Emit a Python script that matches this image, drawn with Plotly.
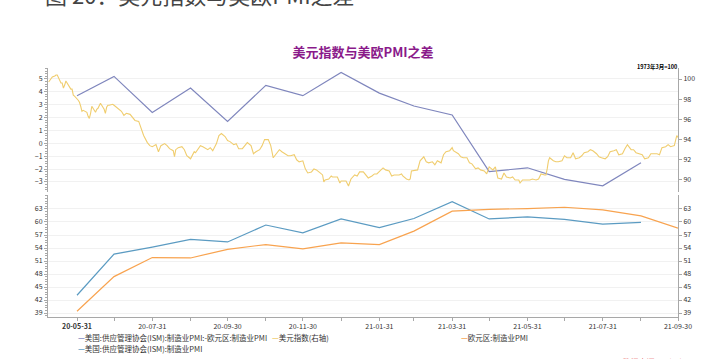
import plotly.graph_objects as go
from plotly.subplots import make_subplots

# ---------------- data ----------------
months = ["2020-05-31", "2020-06-30", "2020-07-31", "2020-08-31", "2020-09-30", "2020-10-31",
          "2020-11-30", "2020-12-31", "2021-01-31", "2021-02-28", "2021-03-31", "2021-04-30",
          "2021-05-31", "2021-06-30", "2021-07-31", "2021-08-31", "2021-09-30"]
tick_labels = ["20-05-31", "", "20-07-31", "", "20-09-30", "", "20-11-30", "", "21-01-31", "",
               "21-03-31", "", "21-05-31", "", "21-07-31", "", "21-09-30"]
pmi_ticks = [39, 42, 45, 48, 51, 54, 57, 60, 63]

pmi_diff = [3.7, 5.2, 2.4, 4.3, 1.7, 4.5, 3.7, 5.5, 3.9, 2.9, 2.2, -2.2, -1.9, -2.8, -3.3, -1.5]
ism_pmi = [43.1, 52.6, 54.2, 56.0, 55.4, 59.3, 57.5, 60.7, 58.7, 60.8, 64.7, 60.7, 61.2, 60.6, 59.5, 59.9]
euro_pmi = [39.4, 47.4, 51.8, 51.7, 53.7, 54.8, 53.8, 55.2, 54.8, 57.9, 62.5, 62.9, 63.1, 63.4, 62.8, 61.4, 58.6]

dxy_dates = [
    "2020-05-08", "2020-05-11", "2020-05-13", "2020-05-14", "2020-05-15", "2020-05-18", "2020-05-19",
    "2020-05-20", "2020-05-21", "2020-05-22", "2020-05-26", "2020-05-27", "2020-05-28", "2020-05-29",
    "2020-06-01", "2020-06-02", "2020-06-03", "2020-06-04", "2020-06-05", "2020-06-08", "2020-06-09",
    "2020-06-10", "2020-06-11", "2020-06-12", "2020-06-15", "2020-06-16", "2020-06-17", "2020-06-18",
    "2020-06-19", "2020-06-22", "2020-06-23", "2020-06-24", "2020-06-25", "2020-06-26", "2020-06-29",
    "2020-06-30", "2020-07-02", "2020-07-06", "2020-07-08", "2020-07-10", "2020-07-13", "2020-07-15",
    "2020-07-17", "2020-07-20", "2020-07-22", "2020-07-24", "2020-07-27", "2020-07-29", "2020-07-31",
    "2020-08-03", "2020-08-05", "2020-08-07", "2020-08-10", "2020-08-12", "2020-08-14", "2020-08-17",
    "2020-08-18", "2020-08-19", "2020-08-21", "2020-08-24", "2020-08-26", "2020-08-28", "2020-08-31",
    "2020-09-01", "2020-09-03", "2020-09-04", "2020-09-08", "2020-09-10", "2020-09-14", "2020-09-16",
    "2020-09-18", "2020-09-21", "2020-09-23", "2020-09-25", "2020-09-28", "2020-09-30", "2020-10-02",
    "2020-10-05", "2020-10-07", "2020-10-09", "2020-10-12", "2020-10-14", "2020-10-16", "2020-10-19",
    "2020-10-21", "2020-10-23", "2020-10-26", "2020-10-28", "2020-10-30", "2020-11-02", "2020-11-04",
    "2020-11-06", "2020-11-09", "2020-11-11", "2020-11-13", "2020-11-16", "2020-11-18", "2020-11-20",
    "2020-11-23", "2020-11-25", "2020-11-27", "2020-11-30", "2020-12-02", "2020-12-04", "2020-12-07",
    "2020-12-09", "2020-12-11", "2020-12-14", "2020-12-16", "2020-12-17", "2020-12-18", "2020-12-21",
    "2020-12-23", "2020-12-24", "2020-12-28", "2020-12-30", "2020-12-31", "2021-01-04", "2021-01-06",
    "2021-01-08", "2021-01-11", "2021-01-13", "2021-01-15", "2021-01-18", "2021-01-20", "2021-01-22",
    "2021-01-25", "2021-01-27", "2021-01-29", "2021-02-01", "2021-02-03", "2021-02-05", "2021-02-08",
    "2021-02-10", "2021-02-12", "2021-02-16", "2021-02-18", "2021-02-19", "2021-02-22", "2021-02-24",
    "2021-02-25", "2021-02-26", "2021-03-01", "2021-03-03", "2021-03-05", "2021-03-08", "2021-03-10",
    "2021-03-12", "2021-03-15", "2021-03-17", "2021-03-19", "2021-03-22", "2021-03-24", "2021-03-26",
    "2021-03-29", "2021-03-31", "2021-04-01", "2021-04-05", "2021-04-07", "2021-04-09", "2021-04-12",
    "2021-04-14", "2021-04-16", "2021-04-19", "2021-04-21", "2021-04-23", "2021-04-26", "2021-04-28",
    "2021-04-30", "2021-05-03", "2021-05-05", "2021-05-07", "2021-05-10", "2021-05-12", "2021-05-14",
    "2021-05-17", "2021-05-19", "2021-05-21", "2021-05-24", "2021-05-25", "2021-05-27", "2021-05-28",
    "2021-05-31", "2021-06-02", "2021-06-04", "2021-06-07", "2021-06-09", "2021-06-11", "2021-06-14",
    "2021-06-15", "2021-06-16", "2021-06-17", "2021-06-18", "2021-06-21", "2021-06-23", "2021-06-25",
    "2021-06-28", "2021-06-30", "2021-07-02", "2021-07-05", "2021-07-07", "2021-07-09", "2021-07-12",
    "2021-07-14", "2021-07-16", "2021-07-19", "2021-07-21", "2021-07-23", "2021-07-26", "2021-07-28",
    "2021-07-30", "2021-08-02", "2021-08-04", "2021-08-06", "2021-08-09", "2021-08-11", "2021-08-13",
    "2021-08-16", "2021-08-18", "2021-08-20", "2021-08-23", "2021-08-25", "2021-08-27", "2021-08-30",
    "2021-09-01", "2021-09-03", "2021-09-06", "2021-09-08", "2021-09-10", "2021-09-13", "2021-09-15",
    "2021-09-17", "2021-09-20", "2021-09-22", "2021-09-24", "2021-09-27", "2021-09-29", "2021-09-30"]
dxy_values = [
    99.7, 100.2, 100.3, 100.4, 100.4, 99.6, 99.6,
    99.1, 99.4, 99.8, 99.0, 99.0, 98.4, 98.3,
    97.9, 97.7, 97.3, 96.8, 96.9, 96.7, 96.3,
    96.1, 96.6, 97.3, 96.7, 97.0, 97.1, 97.4,
    97.6, 97.0, 96.6, 97.2, 97.4, 97.4, 97.5,
    97.4, 97.2, 96.8, 96.4, 96.6, 96.5, 96.2,
    95.9, 95.8, 95.0, 94.4, 93.7, 93.4, 93.3,
    93.5, 92.8, 93.4, 93.6, 93.4, 93.1, 92.9,
    92.3, 93.0, 93.2, 93.3, 93.0, 92.4, 92.1,
    92.3, 92.8, 92.7, 93.4, 93.3, 93.0, 93.2,
    92.9, 93.6, 94.4, 94.6, 94.3, 93.9, 93.8,
    93.5, 93.6, 93.1, 93.1, 93.4, 93.7, 93.4,
    92.6, 92.8, 93.0, 93.4, 94.0, 94.0, 93.4,
    92.2, 92.7, 93.0, 92.8, 92.6, 92.4, 92.4,
    92.5, 92.0, 91.8, 91.9, 91.1, 90.7, 90.8,
    91.1, 91.0, 90.7, 90.5, 89.8, 90.0, 90.1,
    90.4, 90.3, 90.3, 89.7, 89.9, 89.9, 89.4,
    90.1, 90.5, 90.4, 90.8, 90.8, 90.5, 90.2,
    90.4, 90.6, 90.6, 91.0, 91.2, 91.0, 90.9,
    90.4, 90.5, 90.5, 90.6, 90.4, 90.1, 90.0,
    90.1, 90.9, 91.0, 91.0, 91.9, 92.3, 91.8,
    91.7, 91.8, 91.5, 91.9, 91.7, 92.5, 92.8,
    92.9, 93.2, 92.9, 92.6, 92.3, 92.2, 92.2,
    91.7, 91.6, 91.1, 91.2, 91.0, 90.9, 90.6,
    91.3, 91.0, 91.3, 90.2, 90.1, 90.7, 90.3,
    90.2, 90.3, 90.0, 90.0, 89.7, 90.0, 90.0,
    90.0, 90.0, 90.1, 90.0, 90.1, 90.6, 90.5,
    90.5, 91.1, 91.9, 92.2, 91.9, 91.8, 91.8,
    91.9, 92.4, 92.2, 92.2, 92.7, 92.1, 92.2,
    92.4, 92.7, 92.8, 93.0, 92.9, 92.6, 92.3,
    92.2, 92.1, 92.3, 92.8, 92.9, 93.0, 92.5,
    92.6, 93.1, 93.5, 93.0, 93.0, 92.7, 92.6,
    92.5, 92.1, 92.2, 92.6, 92.6, 92.6, 92.5,
    93.2, 93.3, 93.5, 93.3, 93.4, 94.4, 94.2]

names = ["美国:供应管理协会(ISM):制造业PMI:-欧元区:制造业PMI", "美元指数(右轴)",
         "欧元区:制造业PMI", "美国:供应管理协会(ISM):制造业PMI"]
colors = ["#7f86bd", "#f0cd6e", "#f8a34f", "#5b9bc2"]

# ---------------- figure ----------------
FONT = "Noto Sans CJK SC, Noto Sans, sans-serif"
fig = make_subplots(rows=2, cols=1, shared_xaxes=True,
                    specs=[[{"secondary_y": True}], [{"secondary_y": True}]])

fig.add_trace(go.Scatter(x=dxy_dates, y=dxy_values, mode="lines", name=names[1],
                         line=dict(color=colors[1], width=1.1)), row=1, col=1, secondary_y=True)
fig.add_trace(go.Scatter(x=months[:len(pmi_diff)], y=pmi_diff, mode="lines", name=names[0],
                         line=dict(color=colors[0], width=1.2)), row=1, col=1, secondary_y=False)
fig.add_trace(go.Scatter(x=months[:len(ism_pmi)], y=ism_pmi, mode="lines", name=names[3],
                         line=dict(color=colors[3], width=1.2)), row=2, col=1, secondary_y=False)
fig.add_trace(go.Scatter(x=months, y=euro_pmi, mode="lines", name=names[2],
                         line=dict(color=colors[2], width=1.2)), row=2, col=1, secondary_y=True)

axis_col = "#a8a8a8"
grid_col = "#f1f1f1"
xr = ["2020-05-07 12:00", "2021-09-30"]

fig.update_layout(
    width=706, height=359,
    margin=dict(l=48, r=28, t=68, b=42),
    paper_bgcolor="white", plot_bgcolor="white",
    showlegend=False,
    font=dict(family=FONT, size=7, color="#333333"),
    title=dict(text="<b>美元指数与美欧PMI之差</b>", x=0.5, xref="paper", xanchor="center",
               y=1 - 52 / 359, yanchor="middle",
               font=dict(family=FONT, size=13, color="#8a1a8a")),
    xaxis=dict(range=xr, domain=[0, 1], showticklabels=False, showline=False, ticks="",
               showgrid=False, zeroline=False),
    xaxis2=dict(range=xr, domain=[0, 1], tickmode="array", tickvals=months,
                ticktext=["<b>" + tick_labels[0] + "</b>"] + tick_labels[1:],
                ticks="outside", ticklen=3, tickcolor=axis_col, showline=True,
                linecolor=axis_col, linewidth=1, showgrid=False, zeroline=False,
                tickfont=dict(size=7, color="#333333")),
    yaxis=dict(domain=[0.502, 1], range=[-3.78, 5.85], tickmode="linear", tick0=0, dtick=1,
               ticks="outside", ticklen=3, tickcolor=axis_col, showline=True, linecolor=axis_col,
               showgrid=True, gridcolor=grid_col, zeroline=False,
               minor=dict(dtick=0.2, tick0=0, ticks="outside", ticklen=2, tickcolor=axis_col,
                          showgrid=False)),
    yaxis2=dict(range=[88.81, 101.09], tickmode="linear", tick0=0, dtick=2,
                ticks="outside", ticklen=3, tickcolor=axis_col, showline=True, linecolor=axis_col,
                showgrid=False, zeroline=False),
    yaxis3=dict(domain=[0, 0.49], range=[38.08, 66.23], tickmode="array", tickvals=pmi_ticks,
                ticks="outside", ticklen=3, tickcolor=axis_col, showline=True, linecolor=axis_col,
                showgrid=True, gridcolor=grid_col, zeroline=False,
                minor=dict(dtick=0.6, tick0=0, ticks="outside", ticklen=2, tickcolor=axis_col,
                           showgrid=False)),
    yaxis4=dict(range=[38.08, 66.23], tickmode="array", tickvals=pmi_ticks,
                ticks="outside", ticklen=3, tickcolor=axis_col, showline=True, linecolor=axis_col,
                showgrid=False, zeroline=False),
)


def px_x(px):
    return (px - 48) / 630.0


def px_y(py):
    return (317 - py) / 249.0


annots = []
# legend (coloured dash + text)
legend_items = [(names[0], colors[0], 76, 337), (names[1], colors[1], 270, 337),
                (names[2], colors[2], 459, 337), (names[3], colors[3], 76, 348)]
for txt, col, lx, ly in legend_items:
    annots.append(dict(text='<span style="color:%s"><b>—</b></span>%s' % (col, txt),
                       xref="paper", yref="paper", x=px_x(lx), y=px_y(ly),
                       xanchor="left", yanchor="middle", showarrow=False,
                       font=dict(family=FONT, size=7.5, color="#333333")))
# unit note
annots.append(dict(text="<b>1973年3月=100</b>", xref="paper", yref="paper", x=px_x(679), y=px_y(67),
                   xanchor="right", yanchor="middle", showarrow=False,
                   font=dict(family=FONT, size=5.5, color="#000000")))
# caption at the top (cut by the page edge, as in the reference)
annots.append(dict(text="图 20：美元指数与美欧PMI之差", xref="paper", yref="paper",
                   x=px_x(43), y=px_y(-6), xanchor="left", yanchor="middle", showarrow=False,
                   font=dict(family=FONT, size=22, color="#444444")))
# source note (cut by the page edge, as in the reference)
annots.append(dict(text="<i>数据来源：Wind</i>", xref="paper", yref="paper",
                   x=px_x(683), y=px_y(361), xanchor="right", yanchor="middle", showarrow=False,
                   font=dict(family=FONT, size=8, color="#e02020")))
fig.update_layout(annotations=annots)

fig.write_html("out.html", config={"displayModeBar": False},
               post_script="document.body.style.margin='0';document.body.style.padding='0';")
